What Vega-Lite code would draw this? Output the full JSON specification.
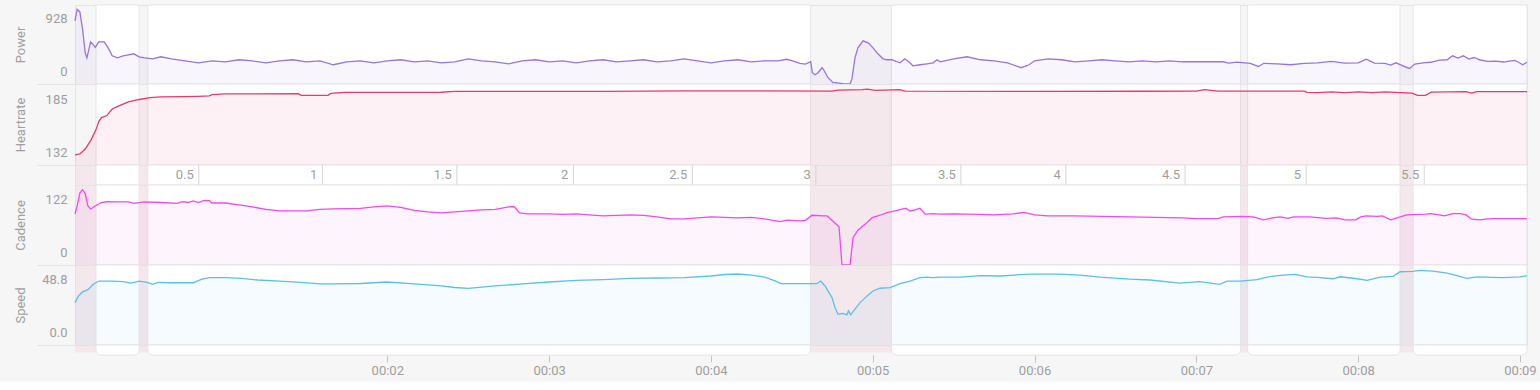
{
  "$schema": "https://vega.github.io/schema/vega-lite/v6.json",
  "background": "#f6f6f6",
  "padding": {"left": 13, "top": 4, "right": 10, "bottom": 5},
  "config": {
    "font": "Roboto",
    "view": {"stroke": "#e3e3e3"},
    "axis": {"labelFont": "Roboto", "titleFont": "Roboto", "labelColor": "#9e9e9e", "titleColor": "#9e9e9e", "labelFontSize": 13, "titleFontSize": 13, "titleFontWeight": "normal", "grid": false, "domain": false, "labelOverlap": false, "labelBound": false}
  },
  "datasets": {
    "cards": [{"s": 12.0, "e": 28.0}, {"s": 31.2, "e": 276.9}, {"s": 306.9, "e": 436.4}, {"s": 439.0, "e": 495.5}, {"s": 500.4, "e": 542.6}],
    "dist": [{"t": 50.1, "label": "0.5"}, {"t": 95.9, "label": "1"}, {"t": 145.8, "label": "1.5"}, {"t": 189.0, "label": "2"}, {"t": 233.1, "label": "2.5"}, {"t": 278.9, "label": "3"}, {"t": 332.7, "label": "3.5"}, {"t": 371.6, "label": "4"}, {"t": 415.8, "label": "4.5"}, {"t": 460.7, "label": "5"}, {"t": 504.5, "label": "5.5"}],
    "power": [
      {"t": 4.2, "v": 783}, {"t": 5, "v": 928}, {"t": 6, "v": 895}, {"t": 7, "v": 684}, {"t": 8, "v": 387}, {"t": 8.6, "v": 325}, {"t": 10, "v": 523}, {"t": 11, "v": 486}, {"t": 11.7, "v": 455}, {"t": 13, "v": 523}, {"t": 15, "v": 523}, {"t": 16.5, "v": 449}, {"t": 18, "v": 350}, {"t": 20, "v": 325}, {"t": 22, "v": 350}, {"t": 24, "v": 362}, {"t": 26, "v": 375}, {"t": 27, "v": 355}, {"t": 28, "v": 338}, {"t": 30, "v": 325}, {"t": 33, "v": 313}, {"t": 36, "v": 338}, {"t": 40, "v": 313}, {"t": 45, "v": 288}, {"t": 50, "v": 263}, {"t": 55, "v": 288}, {"t": 60, "v": 276}, {"t": 65, "v": 301}, {"t": 70, "v": 288}, {"t": 75, "v": 263}, {"t": 80, "v": 288}, {"t": 85, "v": 301}, {"t": 90, "v": 276}, {"t": 95, "v": 288}, {"t": 100, "v": 239}, {"t": 105, "v": 276}, {"t": 110, "v": 288}, {"t": 115, "v": 263}, {"t": 120, "v": 288}, {"t": 125, "v": 301}, {"t": 130, "v": 276}, {"t": 135, "v": 288}, {"t": 140, "v": 263}, {"t": 145, "v": 276}, {"t": 150, "v": 313}, {"t": 155, "v": 288}, {"t": 160, "v": 276}, {"t": 165, "v": 251}, {"t": 170, "v": 288}, {"t": 175, "v": 301}, {"t": 180, "v": 276}, {"t": 185, "v": 288}, {"t": 190, "v": 263}, {"t": 195, "v": 288}, {"t": 200, "v": 301}, {"t": 205, "v": 276}, {"t": 210, "v": 288}, {"t": 215, "v": 301}, {"t": 220, "v": 276}, {"t": 225, "v": 288}, {"t": 230, "v": 313}, {"t": 235, "v": 288}, {"t": 240, "v": 263}, {"t": 245, "v": 288}, {"t": 250, "v": 301}, {"t": 255, "v": 276}, {"t": 260, "v": 288}, {"t": 265, "v": 288}, {"t": 268, "v": 307}, {"t": 270, "v": 290}, {"t": 273, "v": 256}, {"t": 275, "v": 248}, {"t": 277, "v": 276}, {"t": 277.6, "v": 140}, {"t": 278.6, "v": 115}, {"t": 279.7, "v": 140}, {"t": 281.2, "v": 202}, {"t": 281.6, "v": 189}, {"t": 283.4, "v": 78}, {"t": 285.3, "v": 16}, {"t": 286, "v": 16}, {"t": 289, "v": 4}, {"t": 291.6, "v": 0}, {"t": 292.3, "v": 66}, {"t": 293.4, "v": 325}, {"t": 294.5, "v": 449}, {"t": 296.4, "v": 536}, {"t": 298.3, "v": 511}, {"t": 300.1, "v": 449}, {"t": 301.9, "v": 375}, {"t": 303.8, "v": 313}, {"t": 305.3, "v": 301}, {"t": 307.1, "v": 301}, {"t": 308.2, "v": 288}, {"t": 310.1, "v": 263}, {"t": 311.9, "v": 313}, {"t": 313.8, "v": 263}, {"t": 314.9, "v": 226}, {"t": 317.5, "v": 239}, {"t": 320.1, "v": 251}, {"t": 322.4, "v": 263}, {"t": 323.8, "v": 301}, {"t": 325, "v": 276}, {"t": 330, "v": 313}, {"t": 335, "v": 338}, {"t": 340, "v": 301}, {"t": 345, "v": 288}, {"t": 350, "v": 263}, {"t": 355, "v": 202}, {"t": 358, "v": 239}, {"t": 360, "v": 288}, {"t": 365, "v": 313}, {"t": 370, "v": 301}, {"t": 375, "v": 276}, {"t": 380, "v": 288}, {"t": 385, "v": 301}, {"t": 390, "v": 288}, {"t": 395, "v": 276}, {"t": 400, "v": 288}, {"t": 405, "v": 276}, {"t": 410, "v": 288}, {"t": 415, "v": 276}, {"t": 420, "v": 276}, {"t": 425, "v": 276}, {"t": 430, "v": 276}, {"t": 432, "v": 260}, {"t": 435, "v": 272}, {"t": 440, "v": 255}, {"t": 443, "v": 218}, {"t": 445, "v": 257}, {"t": 450, "v": 251}, {"t": 455, "v": 239}, {"t": 460, "v": 257}, {"t": 465, "v": 263}, {"t": 470, "v": 280}, {"t": 475, "v": 260}, {"t": 480, "v": 263}, {"t": 483, "v": 309}, {"t": 486, "v": 260}, {"t": 490, "v": 255}, {"t": 492, "v": 235}, {"t": 494, "v": 263}, {"t": 497, "v": 220}, {"t": 499, "v": 193}, {"t": 501, "v": 247}, {"t": 504, "v": 263}, {"t": 507, "v": 270}, {"t": 510, "v": 297}, {"t": 513, "v": 301}, {"t": 515, "v": 350}, {"t": 517, "v": 322}, {"t": 519, "v": 350}, {"t": 521, "v": 309}, {"t": 523, "v": 329}, {"t": 525, "v": 301}, {"t": 528, "v": 282}, {"t": 531, "v": 285}, {"t": 534, "v": 273}, {"t": 536, "v": 285}, {"t": 538, "v": 294}, {"t": 539.5, "v": 270}, {"t": 541, "v": 239}, {"t": 542.6, "v": 270}
    ],
    "hr": [
      {"t": 4.2, "v": 139.1}, {"t": 6, "v": 139.8}, {"t": 8, "v": 143.2}, {"t": 10, "v": 149.2}, {"t": 12, "v": 156.9}, {"t": 13, "v": 162.6}, {"t": 14, "v": 165.4}, {"t": 16, "v": 166.8}, {"t": 18, "v": 171.4}, {"t": 20, "v": 173.2}, {"t": 24, "v": 176.4}, {"t": 28, "v": 178.1}, {"t": 32, "v": 179.4}, {"t": 36, "v": 179.9}, {"t": 44, "v": 180.1}, {"t": 50, "v": 180.3}, {"t": 54, "v": 180.6}, {"t": 55, "v": 181.5}, {"t": 60, "v": 182.0}, {"t": 87, "v": 182.2}, {"t": 88, "v": 181.0}, {"t": 98, "v": 181.0}, {"t": 99, "v": 182.4}, {"t": 104, "v": 183.1}, {"t": 140, "v": 183.2}, {"t": 145, "v": 183.8}, {"t": 200, "v": 183.8}, {"t": 230, "v": 184.2}, {"t": 285, "v": 184.0}, {"t": 287, "v": 184.7}, {"t": 296, "v": 185.0}, {"t": 298, "v": 185.4}, {"t": 301, "v": 184.5}, {"t": 310, "v": 185.0}, {"t": 312, "v": 184.0}, {"t": 360, "v": 183.8}, {"t": 400, "v": 183.9}, {"t": 420, "v": 184.0}, {"t": 423, "v": 185.0}, {"t": 428, "v": 184.0}, {"t": 460, "v": 184.0}, {"t": 461, "v": 183.1}, {"t": 465, "v": 182.9}, {"t": 470, "v": 183.4}, {"t": 475, "v": 182.9}, {"t": 480, "v": 183.4}, {"t": 485, "v": 182.9}, {"t": 490, "v": 183.4}, {"t": 496, "v": 182.9}, {"t": 500, "v": 182.6}, {"t": 502, "v": 181.0}, {"t": 505, "v": 181.0}, {"t": 507, "v": 183.3}, {"t": 520, "v": 183.6}, {"t": 522, "v": 182.6}, {"t": 524, "v": 183.6}, {"t": 542.6, "v": 183.6}
    ],
    "cad": [
      {"t": 4.2, "v": 83.0}, {"t": 5, "v": 96.5}, {"t": 6, "v": 117.6}, {"t": 7, "v": 123.0}, {"t": 8, "v": 116.8}, {"t": 9, "v": 96.5}, {"t": 10, "v": 91.6}, {"t": 12, "v": 97.3}, {"t": 14, "v": 102.1}, {"t": 16, "v": 103.3}, {"t": 20, "v": 103.0}, {"t": 24, "v": 103.0}, {"t": 26, "v": 100.8}, {"t": 30, "v": 103.0}, {"t": 36, "v": 102.1}, {"t": 42, "v": 100.8}, {"t": 44, "v": 103.4}, {"t": 46, "v": 102.1}, {"t": 48, "v": 104.6}, {"t": 50, "v": 102.1}, {"t": 52, "v": 105.7}, {"t": 54, "v": 105.1}, {"t": 55, "v": 101.3}, {"t": 60, "v": 101.3}, {"t": 65, "v": 98.1}, {"t": 70, "v": 94.8}, {"t": 75, "v": 90.8}, {"t": 80, "v": 88.3}, {"t": 90, "v": 88.3}, {"t": 95, "v": 90.8}, {"t": 100, "v": 91.6}, {"t": 110, "v": 92.4}, {"t": 115, "v": 94.8}, {"t": 120, "v": 96.5}, {"t": 125, "v": 94.0}, {"t": 130, "v": 89.1}, {"t": 135, "v": 86.7}, {"t": 140, "v": 85.1}, {"t": 145, "v": 86.7}, {"t": 150, "v": 88.3}, {"t": 155, "v": 89.9}, {"t": 160, "v": 90.8}, {"t": 165, "v": 94.8}, {"t": 167, "v": 95.6}, {"t": 169, "v": 85.1}, {"t": 172, "v": 83.4}, {"t": 180, "v": 83.4}, {"t": 185, "v": 82.6}, {"t": 190, "v": 83.4}, {"t": 195, "v": 81.8}, {"t": 200, "v": 80.2}, {"t": 205, "v": 81.0}, {"t": 210, "v": 81.8}, {"t": 215, "v": 81.0}, {"t": 220, "v": 78.6}, {"t": 225, "v": 75.3}, {"t": 230, "v": 75.3}, {"t": 235, "v": 76.9}, {"t": 240, "v": 78.6}, {"t": 245, "v": 77.7}, {"t": 250, "v": 76.9}, {"t": 255, "v": 77.7}, {"t": 260, "v": 75.3}, {"t": 265.6, "v": 70.9}, {"t": 268.2, "v": 73.2}, {"t": 273.1, "v": 72.1}, {"t": 275, "v": 72.9}, {"t": 277.5, "v": 81.3}, {"t": 281.6, "v": 80.2}, {"t": 283.1, "v": 80.2}, {"t": 287.5, "v": 62.3}, {"t": 288.6, "v": 0}, {"t": 291.6, "v": 0}, {"t": 292.7, "v": 44.9}, {"t": 294.5, "v": 56.9}, {"t": 297.9, "v": 69.3}, {"t": 299.8, "v": 77.4}, {"t": 302.7, "v": 81.3}, {"t": 305.3, "v": 85.6}, {"t": 308.2, "v": 88.3}, {"t": 310.9, "v": 91.1}, {"t": 312.3, "v": 92.7}, {"t": 313.8, "v": 88.3}, {"t": 315.7, "v": 89.9}, {"t": 317.5, "v": 92.7}, {"t": 319.4, "v": 83.0}, {"t": 322.4, "v": 83.9}, {"t": 325, "v": 83.0}, {"t": 330, "v": 83.4}, {"t": 340, "v": 82.6}, {"t": 345, "v": 81.8}, {"t": 352, "v": 83.4}, {"t": 356, "v": 85.9}, {"t": 360, "v": 81.8}, {"t": 365, "v": 80.2}, {"t": 375, "v": 80.2}, {"t": 385, "v": 79.4}, {"t": 395, "v": 78.6}, {"t": 405, "v": 77.7}, {"t": 415, "v": 76.9}, {"t": 420, "v": 75.8}, {"t": 428, "v": 75.8}, {"t": 430, "v": 78.6}, {"t": 437, "v": 79.4}, {"t": 441, "v": 78.6}, {"t": 445, "v": 73.7}, {"t": 448, "v": 76.9}, {"t": 451, "v": 78.6}, {"t": 454, "v": 76.1}, {"t": 456, "v": 78.6}, {"t": 462, "v": 78.6}, {"t": 468, "v": 76.1}, {"t": 472, "v": 76.9}, {"t": 475, "v": 73.7}, {"t": 479, "v": 73.7}, {"t": 481, "v": 78.6}, {"t": 483, "v": 80.2}, {"t": 487, "v": 79.4}, {"t": 489, "v": 80.2}, {"t": 492, "v": 73.7}, {"t": 495, "v": 77.7}, {"t": 498, "v": 81.8}, {"t": 505, "v": 83.0}, {"t": 507, "v": 83.9}, {"t": 510, "v": 81.8}, {"t": 512, "v": 80.2}, {"t": 515, "v": 83.9}, {"t": 518, "v": 83.9}, {"t": 520, "v": 81.8}, {"t": 522, "v": 74.8}, {"t": 525, "v": 73.7}, {"t": 528, "v": 75.3}, {"t": 531, "v": 75.8}, {"t": 542.6, "v": 75.8}
    ],
    "spd": [
      {"t": 4.2, "v": 27.7}, {"t": 5.5, "v": 32.1}, {"t": 7, "v": 34.7}, {"t": 9, "v": 36.2}, {"t": 11, "v": 39.7}, {"t": 13, "v": 41.8}, {"t": 18, "v": 41.8}, {"t": 22, "v": 41.4}, {"t": 25, "v": 40.5}, {"t": 28, "v": 41.8}, {"t": 31, "v": 41.0}, {"t": 33, "v": 39.7}, {"t": 35, "v": 40.9}, {"t": 40, "v": 40.7}, {"t": 48, "v": 40.7}, {"t": 51, "v": 42.9}, {"t": 54, "v": 44.0}, {"t": 60, "v": 44.0}, {"t": 66, "v": 43.5}, {"t": 72, "v": 42.5}, {"t": 80, "v": 41.8}, {"t": 88, "v": 40.9}, {"t": 95, "v": 39.9}, {"t": 100, "v": 39.9}, {"t": 110, "v": 40.2}, {"t": 120, "v": 41.2}, {"t": 130, "v": 39.9}, {"t": 140, "v": 38.6}, {"t": 145, "v": 37.6}, {"t": 150, "v": 37.0}, {"t": 155, "v": 37.9}, {"t": 160, "v": 38.6}, {"t": 170, "v": 39.9}, {"t": 180, "v": 41.2}, {"t": 190, "v": 42.2}, {"t": 200, "v": 42.8}, {"t": 210, "v": 43.5}, {"t": 220, "v": 43.8}, {"t": 230, "v": 44.1}, {"t": 240, "v": 45.1}, {"t": 245, "v": 46.1}, {"t": 250, "v": 46.4}, {"t": 255, "v": 45.7}, {"t": 260, "v": 44.4}, {"t": 264, "v": 41.8}, {"t": 266, "v": 40.1}, {"t": 279.3, "v": 40.1}, {"t": 280.7, "v": 41.8}, {"t": 282.3, "v": 38.6}, {"t": 284.9, "v": 31.0}, {"t": 286, "v": 24.5}, {"t": 287.1, "v": 20.2}, {"t": 289, "v": 20.6}, {"t": 290.4, "v": 19.7}, {"t": 291, "v": 22.3}, {"t": 291.8, "v": 19.7}, {"t": 293.4, "v": 23.4}, {"t": 295.3, "v": 27.7}, {"t": 297.9, "v": 32.1}, {"t": 300.1, "v": 35.3}, {"t": 302.7, "v": 37.1}, {"t": 306.4, "v": 37.5}, {"t": 310.1, "v": 40.1}, {"t": 313.8, "v": 41.8}, {"t": 317.5, "v": 44.0}, {"t": 320.1, "v": 44.4}, {"t": 322.4, "v": 44.0}, {"t": 325, "v": 44.4}, {"t": 332.4, "v": 44.4}, {"t": 339.8, "v": 45.4}, {"t": 347.2, "v": 45.1}, {"t": 358.3, "v": 46.4}, {"t": 369.5, "v": 46.4}, {"t": 376.9, "v": 45.7}, {"t": 384.3, "v": 44.4}, {"t": 395.4, "v": 43.1}, {"t": 402.8, "v": 42.5}, {"t": 413.9, "v": 40.5}, {"t": 421.3, "v": 41.4}, {"t": 428.7, "v": 39.7}, {"t": 431.4, "v": 41.8}, {"t": 436.2, "v": 41.8}, {"t": 442.5, "v": 42.7}, {"t": 446.2, "v": 44.4}, {"t": 451, "v": 45.5}, {"t": 456.6, "v": 46.2}, {"t": 461, "v": 44.6}, {"t": 464.8, "v": 44.2}, {"t": 470.7, "v": 43.3}, {"t": 473.3, "v": 44.6}, {"t": 479.6, "v": 43.3}, {"t": 483.3, "v": 42.3}, {"t": 488.1, "v": 44.4}, {"t": 493, "v": 44.9}, {"t": 495.5, "v": 47.9}, {"t": 500.3, "v": 48.1}, {"t": 502.9, "v": 48.8}, {"t": 507.8, "v": 48.3}, {"t": 513, "v": 47.0}, {"t": 516.6, "v": 45.3}, {"t": 520.3, "v": 43.6}, {"t": 524, "v": 44.6}, {"t": 530, "v": 44.2}, {"t": 533.7, "v": 44.0}, {"t": 540, "v": 44.6}, {"t": 542.6, "v": 45.3}
    ]
  },
  "spacing": 0,
  "bounds": "flush",
  "resolve": {"scale": {"y": "independent"}},
  "vconcat": [
    {
      "width": 1452, "height": 79,
      "layer": [
        {"data": {"name": "cards"}, "mark": {"type": "rect", "fill": "white", "stroke": "#e6e6e6", "strokeWidth": 1},
         "encoding": {"x": {"field": "s", "type": "quantitative", "scale": {"domain": [4.2, 542.6], "nice": false, "zero": false}, "axis": null}, "x2": {"field": "e"}}},
        {"data": {"name": "power"}, "mark": {"type": "area", "color": "#9575e0", "fillOpacity": 0.07},
         "encoding": {"x": {"field": "t", "type": "quantitative", "scale": {"domain": [4.2, 542.6], "nice": false, "zero": false}, "axis": null},
                      "y": {"field": "v", "type": "quantitative", "scale": {"domain": [0, 981], "nice": false, "zero": false},
                            "axis": {"title": "Power", "titleX": -55, "titleY": 39.5, "titleAngle": -90, "titleAlign": "center", "titleBaseline": "middle", "values": [0, 928], "format": "d", "labelOverlap": false, "labelBaseline": "middle", "labelAlign": "right", "tickSize": 38, "tickColor": "#e3e3e3", "tickOpacity": {"condition": {"test": "datum.value == 0", "value": 1}, "value": 0}, "labelPadding": -30, "labelOffset": {"condition": {"test": "datum.value == 0", "value": -12.5}, "value": 9.5}}}}},
        {"data": {"name": "power"}, "mark": {"type": "line", "color": "#9575e0", "strokeWidth": 1.3},
         "encoding": {"x": {"field": "t", "type": "quantitative", "scale": {"domain": [4.2, 542.6], "nice": false, "zero": false}, "axis": null}, "y": {"field": "v", "type": "quantitative"}}}
      ]
    },
    {
      "width": 1452, "height": 81,
      "layer": [
        {"data": {"name": "cards"}, "mark": {"type": "rect", "fill": "white", "stroke": "#e6e6e6", "strokeWidth": 1},
         "encoding": {"x": {"field": "s", "type": "quantitative", "scale": {"domain": [4.2, 542.6], "nice": false, "zero": false}, "axis": null}, "x2": {"field": "e"}}},
        {"data": {"name": "hr"}, "mark": {"type": "area", "color": "#e8386d", "fillOpacity": 0.07},
         "encoding": {"x": {"field": "t", "type": "quantitative", "scale": {"domain": [4.2, 542.6], "nice": false, "zero": false}, "axis": null},
                      "y": {"field": "v", "type": "quantitative", "scale": {"domain": [132, 189], "nice": false, "zero": false},
                            "axis": {"title": "Heartrate", "titleX": -55, "titleY": 40.5, "titleAngle": -90, "titleAlign": "center", "titleBaseline": "middle", "values": [132, 185], "format": "d", "labelOverlap": false, "labelBaseline": "middle", "labelAlign": "right", "tickSize": 38, "tickColor": "#e3e3e3", "tickOpacity": {"condition": {"test": "datum.value == 132", "value": 1}, "value": 0}, "labelPadding": -30, "labelOffset": {"condition": {"test": "datum.value == 132", "value": -12.5}, "value": 10}}}}},
        {"data": {"name": "hr"}, "mark": {"type": "line", "color": "#e8386d", "strokeWidth": 1.3},
         "encoding": {"x": {"field": "t", "type": "quantitative", "scale": {"domain": [4.2, 542.6], "nice": false, "zero": false}, "axis": null}, "y": {"field": "v", "type": "quantitative"}}}
      ]
    },
    {
      "width": 1452, "height": 20,
      "layer": [
        {"data": {"name": "cards"}, "mark": {"type": "rect", "fill": "white", "stroke": "#e6e6e6", "strokeWidth": 1},
         "encoding": {"x": {"field": "s", "type": "quantitative", "scale": {"domain": [4.2, 542.6], "nice": false, "zero": false}, "axis": null}, "x2": {"field": "e"}}},
        {"data": {"name": "dist"}, "mark": {"type": "rule", "color": "#d4d4d4", "strokeWidth": 1},
         "encoding": {"x": {"field": "t", "type": "quantitative", "scale": {"domain": [4.2, 542.6], "nice": false, "zero": false}, "axis": null}}},
        {"data": {"name": "dist"}, "mark": {"type": "text", "align": "right", "baseline": "middle", "dx": -5, "fontSize": 13, "color": "#9e9e9e", "font": "Roboto"},
         "encoding": {"x": {"field": "t", "type": "quantitative", "scale": {"domain": [4.2, 542.6], "nice": false, "zero": false}, "axis": null}, "text": {"field": "label"}}}
      ]
    },
    {
      "width": 1452, "height": 80,
      "layer": [
        {"data": {"name": "cards"}, "mark": {"type": "rect", "fill": "white", "stroke": "#e6e6e6", "strokeWidth": 1},
         "encoding": {"x": {"field": "s", "type": "quantitative", "scale": {"domain": [4.2, 542.6], "nice": false, "zero": false}, "axis": null}, "x2": {"field": "e"}}},
        {"data": {"name": "cad"}, "mark": {"type": "area", "color": "#f347f3", "fillOpacity": 0.06},
         "encoding": {"x": {"field": "t", "type": "quantitative", "scale": {"domain": [4.2, 542.6], "nice": false, "zero": false}, "axis": null},
                      "y": {"field": "v", "type": "quantitative", "scale": {"domain": [0, 130.7], "nice": false, "zero": false},
                            "axis": {"title": "Cadence", "titleX": -55, "titleY": 40, "titleAngle": -90, "titleAlign": "center", "titleBaseline": "middle", "values": [0, 122], "format": "d", "labelOverlap": false, "labelBaseline": "middle", "labelAlign": "right", "tickSize": 38, "tickColor": "#e3e3e3", "tickOpacity": {"condition": {"test": "datum.value == 0", "value": 1}, "value": 0}, "labelPadding": -30, "labelOffset": {"condition": {"test": "datum.value == 0", "value": -13}, "value": 9}}}}},
        {"data": {"name": "cad"}, "mark": {"type": "line", "color": "#f347f3", "strokeWidth": 1.3},
         "encoding": {"x": {"field": "t", "type": "quantitative", "scale": {"domain": [4.2, 542.6], "nice": false, "zero": false}, "axis": null}, "y": {"field": "v", "type": "quantitative"}}}
      ]
    },
    {
      "width": 1452, "height": 80,
      "layer": [
        {"data": {"name": "cards"}, "mark": {"type": "rect", "fill": "white", "stroke": "#e6e6e6", "strokeWidth": 1},
         "encoding": {"x": {"field": "s", "type": "quantitative", "scale": {"domain": [4.2, 542.6], "nice": false, "zero": false}, "axis": null}, "x2": {"field": "e"}}},
        {"data": {"name": "spd"}, "mark": {"type": "area", "color": "#5bbfea", "fillOpacity": 0.06},
         "encoding": {"x": {"field": "t", "type": "quantitative", "scale": {"domain": [4.2, 542.6], "nice": false, "zero": false}, "axis": null},
                      "y": {"field": "v", "type": "quantitative", "scale": {"domain": [0, 52.3], "nice": false, "zero": false},
                            "axis": {"title": "Speed", "titleX": -55, "titleY": 40, "titleAngle": -90, "titleAlign": "center", "titleBaseline": "middle", "values": [0, 48.8], "format": ".1f", "labelOverlap": false, "labelBaseline": "middle", "labelAlign": "right", "tickSize": 38, "tickColor": "#e3e3e3", "tickOpacity": {"condition": {"test": "datum.value == 0", "value": 1}, "value": 0}, "labelPadding": -30, "labelOffset": {"condition": {"test": "datum.value == 0", "value": -13}, "value": 9}}}}},
        {"data": {"name": "spd"}, "mark": {"type": "line", "color": "#5bbfea", "strokeWidth": 1.3},
         "encoding": {"x": {"field": "t", "type": "quantitative", "scale": {"domain": [4.2, 542.6], "nice": false, "zero": false}, "axis": null}, "y": {"field": "v", "type": "quantitative"}}}
      ]
    },
    {
      "width": 1452, "height": 10,
      "view": {"stroke": null},
      "data": {"name": "cards"},
      "mark": {"type": "rect", "fill": "white", "stroke": "#e6e6e6", "strokeWidth": 1, "cornerRadiusBottomLeft": 5, "cornerRadiusBottomRight": 5},
      "encoding": {
        "x": {"field": "s", "type": "quantitative", "scale": {"domain": [4.2, 542.6], "nice": false, "zero": false},
              "axis": {"title": null, "values": [120, 180, 240, 300, 360, 420, 480, 540], "labelExpr": "'00:0' + (datum.value / 60)", "labelFlush": false, "ticks": true, "tickSize": 7, "tickColor": "#c4c4c4", "labelPadding": 2, "labelFontSize": 13, "labelColor": "#9e9e9e", "domain": false}},
        "x2": {"field": "e"}
      }
    }
  ]
}
